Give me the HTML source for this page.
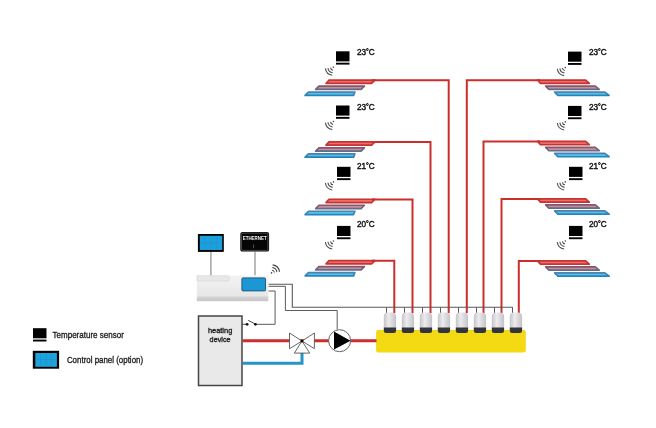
<!DOCTYPE html><html><head><meta charset="utf-8"><style>html,body{margin:0;padding:0;background:#fff;width:656px;height:428px;overflow:hidden;position:relative}text{font-family:"Liberation Sans",sans-serif}</style></head><body><div style="position:absolute;left:0;top:0;width:656px;height:428px;will-change:transform;opacity:0.999;filter:blur(0.3px)"><svg width="656" height="428" viewBox="0 0 656 428" style="position:absolute;left:0;top:0" font-family="Liberation Sans, sans-serif"><defs><linearGradient id="ms" x1="0" y1="0" x2="0" y2="1"><stop offset="0" stop-color="#8c5468"/><stop offset="1" stop-color="#606e8c"/></linearGradient><linearGradient id="bs" x1="0" y1="0" x2="0" y2="1"><stop offset="0" stop-color="#5480a8"/><stop offset="1" stop-color="#2286bc"/></linearGradient></defs><polygon points="329.00,80.15 374.88,80.15 371.59,83.45 326.03,83.45" fill="#f06c6a" stroke="#c43432" stroke-width="1.7" stroke-linejoin="round"/><polygon points="318.91,86.15 364.38,86.15 361.09,89.45 315.62,89.45" fill="#c490a0" stroke="url(#ms)" stroke-width="1.7" stroke-linejoin="round"/><polygon points="308.41,92.15 354.90,92.15 353.57,95.45 305.12,95.45" fill="#4ec4ee" stroke="url(#bs)" stroke-width="1.7" stroke-linejoin="round"/><polyline points="372,80.3 448.7,80.3 448.7,313" fill="none" stroke="#cc2e2c" stroke-width="2"/><rect x="336" y="51.3" width="13.5" height="10.1" fill="#000"/><rect x="336" y="62.699999999999996" width="13.5" height="1.9" fill="#000"/><text x="356.9" y="55.2" font-size="8.3" fill="#111" stroke="#111" stroke-width="0.4" textLength="17.8" lengthAdjust="spacingAndGlyphs">23<tspan font-size="7" dy="-0.9">°</tspan><tspan dy="0.9">C</tspan></text><path d="M333.00,70.17 A2.9,2.9 0 0 1 330.53,67.70" fill="none" stroke="#4c4c4c" stroke-width="1.1"/><path d="M332.63,72.75 A5.5,5.5 0 0 1 327.95,68.07" fill="none" stroke="#4c4c4c" stroke-width="1.1"/><path d="M332.27,75.32 A8.1,8.1 0 0 1 325.38,68.43" fill="none" stroke="#4c4c4c" stroke-width="1.1"/><circle cx="333.4" cy="67.3" r="0.8" fill="#4c4c4c"/><polygon points="329.00,141.85 374.88,141.85 371.59,145.15 326.03,145.15" fill="#f06c6a" stroke="#c43432" stroke-width="1.7" stroke-linejoin="round"/><polygon points="318.91,147.85 364.38,147.85 361.09,151.15 315.62,151.15" fill="#c490a0" stroke="url(#ms)" stroke-width="1.7" stroke-linejoin="round"/><polygon points="308.41,153.85 354.90,153.85 353.57,157.15 305.12,157.15" fill="#4ec4ee" stroke="url(#bs)" stroke-width="1.7" stroke-linejoin="round"/><polyline points="372,142 430.5,142 430.5,313" fill="none" stroke="#cc2e2c" stroke-width="2"/><rect x="336" y="105.5" width="13.5" height="10.1" fill="#000"/><rect x="336" y="116.9" width="13.5" height="1.9" fill="#000"/><text x="356.9" y="109.7" font-size="8.3" fill="#111" stroke="#111" stroke-width="0.4" textLength="17.8" lengthAdjust="spacingAndGlyphs">23<tspan font-size="7" dy="-0.9">°</tspan><tspan dy="0.9">C</tspan></text><path d="M333.00,124.37 A2.9,2.9 0 0 1 330.53,121.90" fill="none" stroke="#4c4c4c" stroke-width="1.1"/><path d="M332.63,126.95 A5.5,5.5 0 0 1 327.95,122.27" fill="none" stroke="#4c4c4c" stroke-width="1.1"/><path d="M332.27,129.52 A8.1,8.1 0 0 1 325.38,122.63" fill="none" stroke="#4c4c4c" stroke-width="1.1"/><circle cx="333.4" cy="121.5" r="0.8" fill="#4c4c4c"/><polygon points="329.00,199.25 374.88,199.25 371.59,202.55 326.03,202.55" fill="#f06c6a" stroke="#c43432" stroke-width="1.7" stroke-linejoin="round"/><polygon points="318.91,205.25 364.38,205.25 361.09,208.55 315.62,208.55" fill="#c490a0" stroke="url(#ms)" stroke-width="1.7" stroke-linejoin="round"/><polygon points="308.41,211.25 354.90,211.25 353.57,214.55 305.12,214.55" fill="#4ec4ee" stroke="url(#bs)" stroke-width="1.7" stroke-linejoin="round"/><polyline points="372,199.4 412.5,199.4 412.5,313" fill="none" stroke="#cc2e2c" stroke-width="2"/><rect x="337" y="166.8" width="13.5" height="10.1" fill="#000"/><rect x="337" y="178.20000000000002" width="13.5" height="1.9" fill="#000"/><text x="356.9" y="169.2" font-size="8.3" fill="#111" stroke="#111" stroke-width="0.4" textLength="17.8" lengthAdjust="spacingAndGlyphs">21<tspan font-size="7" dy="-0.9">°</tspan><tspan dy="0.9">C</tspan></text><path d="M333.00,184.77 A2.9,2.9 0 0 1 330.53,182.30" fill="none" stroke="#4c4c4c" stroke-width="1.1"/><path d="M332.63,187.35 A5.5,5.5 0 0 1 327.95,182.67" fill="none" stroke="#4c4c4c" stroke-width="1.1"/><path d="M332.27,189.92 A8.1,8.1 0 0 1 325.38,183.03" fill="none" stroke="#4c4c4c" stroke-width="1.1"/><circle cx="333.4" cy="181.9" r="0.8" fill="#4c4c4c"/><polygon points="329.00,260.55 374.88,260.55 371.59,263.85 326.03,263.85" fill="#f06c6a" stroke="#c43432" stroke-width="1.7" stroke-linejoin="round"/><polygon points="318.91,266.55 364.38,266.55 361.09,269.85 315.62,269.85" fill="#c490a0" stroke="url(#ms)" stroke-width="1.7" stroke-linejoin="round"/><polygon points="308.41,272.55 354.90,272.55 353.57,275.85 305.12,275.85" fill="#4ec4ee" stroke="url(#bs)" stroke-width="1.7" stroke-linejoin="round"/><polyline points="372,260.7 394.3,260.7 394.3,313" fill="none" stroke="#cc2e2c" stroke-width="2"/><rect x="337" y="225.9" width="13.5" height="10.1" fill="#000"/><rect x="337" y="237.3" width="13.5" height="1.9" fill="#000"/><text x="356.9" y="227.2" font-size="8.3" fill="#111" stroke="#111" stroke-width="0.4" textLength="17.8" lengthAdjust="spacingAndGlyphs">20<tspan font-size="7" dy="-0.9">°</tspan><tspan dy="0.9">C</tspan></text><path d="M333.00,243.87 A2.9,2.9 0 0 1 330.53,241.40" fill="none" stroke="#4c4c4c" stroke-width="1.1"/><path d="M332.63,246.45 A5.5,5.5 0 0 1 327.95,241.77" fill="none" stroke="#4c4c4c" stroke-width="1.1"/><path d="M332.27,249.02 A8.1,8.1 0 0 1 325.38,242.13" fill="none" stroke="#4c4c4c" stroke-width="1.1"/><circle cx="333.4" cy="241.0" r="0.8" fill="#4c4c4c"/><polygon points="537.53,80.05 585.67,80.05 589.30,83.35 540.50,83.35" fill="#f06c6a" stroke="#c43432" stroke-width="1.7" stroke-linejoin="round"/><polygon points="545.62,86.05 595.25,86.05 599.22,89.35 548.91,89.35" fill="#c490a0" stroke="url(#ms)" stroke-width="1.7" stroke-linejoin="round"/><polygon points="554.62,92.05 604.84,92.05 609.13,95.35 557.91,95.35" fill="#4ec4ee" stroke="url(#bs)" stroke-width="1.7" stroke-linejoin="round"/><polyline points="540,80.2 466.8,80.2 466.8,313" fill="none" stroke="#cc2e2c" stroke-width="2"/><rect x="568" y="51.6" width="13.5" height="10.1" fill="#000"/><rect x="568" y="63.0" width="13.5" height="1.9" fill="#000"/><text x="588.9" y="55.1" font-size="8.3" fill="#111" stroke="#111" stroke-width="0.4" textLength="17.8" lengthAdjust="spacingAndGlyphs">23<tspan font-size="7" dy="-0.9">°</tspan><tspan dy="0.9">C</tspan></text><path d="M564.90,70.47 A2.9,2.9 0 0 1 562.43,68.00" fill="none" stroke="#4c4c4c" stroke-width="1.1"/><path d="M564.53,73.05 A5.5,5.5 0 0 1 559.85,68.37" fill="none" stroke="#4c4c4c" stroke-width="1.1"/><path d="M564.17,75.62 A8.1,8.1 0 0 1 557.28,68.73" fill="none" stroke="#4c4c4c" stroke-width="1.1"/><circle cx="565.3" cy="67.6" r="0.8" fill="#4c4c4c"/><polygon points="537.53,141.45 585.67,141.45 589.30,144.75 540.50,144.75" fill="#f06c6a" stroke="#c43432" stroke-width="1.7" stroke-linejoin="round"/><polygon points="545.62,147.45 595.25,147.45 599.22,150.75 548.91,150.75" fill="#c490a0" stroke="url(#ms)" stroke-width="1.7" stroke-linejoin="round"/><polygon points="554.62,153.45 604.84,153.45 609.13,156.75 557.91,156.75" fill="#4ec4ee" stroke="url(#bs)" stroke-width="1.7" stroke-linejoin="round"/><polyline points="540,141.6 483.5,141.6 483.5,313" fill="none" stroke="#cc2e2c" stroke-width="2"/><rect x="568" y="105.9" width="13.5" height="10.1" fill="#000"/><rect x="568" y="117.30000000000001" width="13.5" height="1.9" fill="#000"/><text x="588.9" y="109.6" font-size="8.3" fill="#111" stroke="#111" stroke-width="0.4" textLength="17.8" lengthAdjust="spacingAndGlyphs">23<tspan font-size="7" dy="-0.9">°</tspan><tspan dy="0.9">C</tspan></text><path d="M564.90,124.77 A2.9,2.9 0 0 1 562.43,122.30" fill="none" stroke="#4c4c4c" stroke-width="1.1"/><path d="M564.53,127.35 A5.5,5.5 0 0 1 559.85,122.67" fill="none" stroke="#4c4c4c" stroke-width="1.1"/><path d="M564.17,129.92 A8.1,8.1 0 0 1 557.28,123.03" fill="none" stroke="#4c4c4c" stroke-width="1.1"/><circle cx="565.3" cy="121.9" r="0.8" fill="#4c4c4c"/><polygon points="537.53,198.85 585.67,198.85 589.30,202.15 540.50,202.15" fill="#f06c6a" stroke="#c43432" stroke-width="1.7" stroke-linejoin="round"/><polygon points="545.62,204.85 595.25,204.85 599.22,208.15 548.91,208.15" fill="#c490a0" stroke="url(#ms)" stroke-width="1.7" stroke-linejoin="round"/><polygon points="554.62,210.85 604.84,210.85 609.13,214.15 557.91,214.15" fill="#4ec4ee" stroke="url(#bs)" stroke-width="1.7" stroke-linejoin="round"/><polyline points="540,199 501.5,199 501.5,313" fill="none" stroke="#cc2e2c" stroke-width="2"/><rect x="569" y="166.8" width="13.5" height="10.1" fill="#000"/><rect x="569" y="178.20000000000002" width="13.5" height="1.9" fill="#000"/><text x="588.9" y="169.1" font-size="8.3" fill="#111" stroke="#111" stroke-width="0.4" textLength="17.8" lengthAdjust="spacingAndGlyphs">21<tspan font-size="7" dy="-0.9">°</tspan><tspan dy="0.9">C</tspan></text><path d="M564.90,184.77 A2.9,2.9 0 0 1 562.43,182.30" fill="none" stroke="#4c4c4c" stroke-width="1.1"/><path d="M564.53,187.35 A5.5,5.5 0 0 1 559.85,182.67" fill="none" stroke="#4c4c4c" stroke-width="1.1"/><path d="M564.17,189.92 A8.1,8.1 0 0 1 557.28,183.03" fill="none" stroke="#4c4c4c" stroke-width="1.1"/><circle cx="565.3" cy="181.9" r="0.8" fill="#4c4c4c"/><polygon points="537.53,260.85 585.67,260.85 589.30,264.15 540.50,264.15" fill="#f06c6a" stroke="#c43432" stroke-width="1.7" stroke-linejoin="round"/><polygon points="545.62,266.85 595.25,266.85 599.22,270.15 548.91,270.15" fill="#c490a0" stroke="url(#ms)" stroke-width="1.7" stroke-linejoin="round"/><polygon points="554.62,272.85 604.84,272.85 609.13,276.15 557.91,276.15" fill="#4ec4ee" stroke="url(#bs)" stroke-width="1.7" stroke-linejoin="round"/><polyline points="540,261 518.8,261 518.8,313" fill="none" stroke="#cc2e2c" stroke-width="2"/><rect x="569" y="225.9" width="13.5" height="10.1" fill="#000"/><rect x="569" y="237.3" width="13.5" height="1.9" fill="#000"/><text x="588.9" y="227.1" font-size="8.3" fill="#111" stroke="#111" stroke-width="0.4" textLength="17.8" lengthAdjust="spacingAndGlyphs">20<tspan font-size="7" dy="-0.9">°</tspan><tspan dy="0.9">C</tspan></text><path d="M564.90,243.87 A2.9,2.9 0 0 1 562.43,241.40" fill="none" stroke="#4c4c4c" stroke-width="1.1"/><path d="M564.53,246.45 A5.5,5.5 0 0 1 559.85,241.77" fill="none" stroke="#4c4c4c" stroke-width="1.1"/><path d="M564.17,249.02 A8.1,8.1 0 0 1 557.28,242.13" fill="none" stroke="#4c4c4c" stroke-width="1.1"/><circle cx="565.3" cy="241.0" r="0.8" fill="#4c4c4c"/><polyline points="268.5,284.3 292.3,284.3 292.3,307.3 512.7,307.3" fill="none" stroke="#5a5a5a" stroke-width="1.1"/><polyline points="268.5,286.3 285.4,286.3 285.4,310.5 337.2,310.5 337.2,329.5" fill="none" stroke="#5a5a5a" stroke-width="1"/><polyline points="268.5,291 275.1,291 275.1,324.3 256,324.3" fill="none" stroke="#5a5a5a" stroke-width="1"/><line x1="386.5" y1="307.2" x2="386.5" y2="314" stroke="#5a5a5a" stroke-width="1"/><line x1="404.5" y1="307.2" x2="404.5" y2="314" stroke="#5a5a5a" stroke-width="1"/><line x1="422.5" y1="307.2" x2="422.5" y2="314" stroke="#5a5a5a" stroke-width="1"/><line x1="440.5" y1="307.2" x2="440.5" y2="314" stroke="#5a5a5a" stroke-width="1"/><line x1="458.5" y1="307.2" x2="458.5" y2="314" stroke="#5a5a5a" stroke-width="1"/><line x1="476.5" y1="307.2" x2="476.5" y2="314" stroke="#5a5a5a" stroke-width="1"/><line x1="494.5" y1="307.2" x2="494.5" y2="314" stroke="#5a5a5a" stroke-width="1"/><line x1="512.5" y1="307.2" x2="512.5" y2="314" stroke="#5a5a5a" stroke-width="1"/><defs><linearGradient id="cap" x1="0" y1="0" x2="1" y2="0"><stop offset="0" stop-color="#c4c4ca"/><stop offset="0.4" stop-color="#ececef"/><stop offset="1" stop-color="#c2c2c8"/></linearGradient><linearGradient id="ctl" x1="0" y1="0" x2="0" y2="1"><stop offset="0" stop-color="#f3f3f3"/><stop offset="0.78" stop-color="#e7e7e7"/><stop offset="0.86" stop-color="#d0d0d0"/><stop offset="1" stop-color="#c6c6c6"/></linearGradient></defs><rect x="376.1" y="330.1" width="149.7" height="22.4" rx="2.2" fill="#f3da12"/><path d="M383.8,329 V316.5 Q383.8,312.6 387.8,312.6 H392.1 Q396.1,312.6 396.1,316.5 V329 Z" fill="url(#cap)"/><path d="M383.8,327.4 H396.1 V330.8 Q396.1,333 393.8,333 H386.1 Q383.8,333 383.8,330.8 Z" fill="#34343c"/><path d="M401.8,329 V316.5 Q401.8,312.6 405.8,312.6 H410.1 Q414.1,312.6 414.1,316.5 V329 Z" fill="url(#cap)"/><path d="M401.8,327.4 H414.1 V330.8 Q414.1,333 411.8,333 H404.1 Q401.8,333 401.8,330.8 Z" fill="#34343c"/><path d="M419.8,329 V316.5 Q419.8,312.6 423.8,312.6 H428.1 Q432.1,312.6 432.1,316.5 V329 Z" fill="url(#cap)"/><path d="M419.8,327.4 H432.1 V330.8 Q432.1,333 429.8,333 H422.1 Q419.8,333 419.8,330.8 Z" fill="#34343c"/><path d="M437.8,329 V316.5 Q437.8,312.6 441.8,312.6 H446.1 Q450.1,312.6 450.1,316.5 V329 Z" fill="url(#cap)"/><path d="M437.8,327.4 H450.1 V330.8 Q450.1,333 447.8,333 H440.1 Q437.8,333 437.8,330.8 Z" fill="#34343c"/><path d="M455.8,329 V316.5 Q455.8,312.6 459.8,312.6 H464.1 Q468.1,312.6 468.1,316.5 V329 Z" fill="url(#cap)"/><path d="M455.8,327.4 H468.1 V330.8 Q468.1,333 465.8,333 H458.1 Q455.8,333 455.8,330.8 Z" fill="#34343c"/><path d="M473.8,329 V316.5 Q473.8,312.6 477.8,312.6 H482.1 Q486.1,312.6 486.1,316.5 V329 Z" fill="url(#cap)"/><path d="M473.8,327.4 H486.1 V330.8 Q486.1,333 483.8,333 H476.1 Q473.8,333 473.8,330.8 Z" fill="#34343c"/><path d="M491.8,329 V316.5 Q491.8,312.6 495.8,312.6 H500.1 Q504.1,312.6 504.1,316.5 V329 Z" fill="url(#cap)"/><path d="M491.8,327.4 H504.1 V330.8 Q504.1,333 501.8,333 H494.1 Q491.8,333 491.8,330.8 Z" fill="#34343c"/><path d="M509.8,329 V316.5 Q509.8,312.6 513.8,312.6 H518.1 Q522.1,312.6 522.1,316.5 V329 Z" fill="url(#cap)"/><path d="M509.8,327.4 H522.1 V330.8 Q522.1,333 519.8,333 H512.1 Q509.8,333 509.8,330.8 Z" fill="#34343c"/><rect x="196.8" y="275.6" width="71.5" height="25.6" fill="url(#ctl)"/><path d="M197,275.8 H228 L230,277.5 L228.5,281 H197 Z" fill="#e8e8e8" stroke="#d2d2d2" stroke-width="0.6"/><rect x="241.9" y="277.9" width="23.6" height="13" rx="1" fill="#1c97d6" stroke="#1d4f74" stroke-width="0.9"/><line x1="210.9" y1="252" x2="210.9" y2="275.2" stroke="#969696" stroke-width="1.3"/><line x1="255" y1="251.7" x2="255" y2="275.2" stroke="#969696" stroke-width="1.3"/><rect x="197.9" y="234" width="25.9" height="17.9" fill="#000"/><rect x="199.8" y="235.8" width="22.4" height="14.2" fill="#1ca0dc"/><line x1="205.2" y1="235.8" x2="205.2" y2="250" stroke="#2090c8" stroke-width="0.6"/><line x1="211" y1="235.8" x2="211" y2="250" stroke="#2090c8" stroke-width="0.6"/><line x1="216.5" y1="235.8" x2="216.5" y2="250" stroke="#2090c8" stroke-width="0.6"/><line x1="199.8" y1="242.8" x2="222.2" y2="242.8" stroke="#2090c8" stroke-width="0.6"/><rect x="240.3" y="231.9" width="28.8" height="19.7" rx="2.2" fill="#050505"/><rect x="241.5" y="233.1" width="26.4" height="17.3" rx="1.5" fill="none" stroke="#8a8a8a" stroke-width="0.5"/><text x="254.7" y="239.8" font-size="4.7" font-weight="bold" fill="#f4f4f4" text-anchor="middle" textLength="24" lengthAdjust="spacingAndGlyphs">ETHERNET</text><line x1="253.6" y1="244.4" x2="253.6" y2="248.3" stroke="#888" stroke-width="0.6"/><path d="M271.90,270.03 A2.9,2.9 0 0 1 274.37,272.50" fill="none" stroke="#444" stroke-width="1.1"/><path d="M272.27,267.45 A5.5,5.5 0 0 1 276.95,272.13" fill="none" stroke="#444" stroke-width="1.1"/><path d="M272.63,264.88 A8.1,8.1 0 0 1 279.52,271.77" fill="none" stroke="#444" stroke-width="1.1"/><circle cx="271.5" cy="272.9" r="0.8" fill="#444"/><rect x="198.5" y="316" width="43.5" height="69.5" fill="#e9e9e9" stroke="#444" stroke-width="1.5"/><text x="220.1" y="332.5" font-size="7.7" fill="#222" stroke="#222" stroke-width="0.35" text-anchor="middle" textLength="24.4" lengthAdjust="spacingAndGlyphs">heating</text><text x="220.1" y="341.5" font-size="7.7" fill="#222" stroke="#222" stroke-width="0.35" text-anchor="middle" textLength="21" lengthAdjust="spacingAndGlyphs">device</text><line x1="242.5" y1="324.3" x2="247" y2="324.3" stroke="#333" stroke-width="0.9"/><line x1="255.6" y1="324.3" x2="248.2" y2="320.3" stroke="#333" stroke-width="0.9"/><circle cx="247.1" cy="324.3" r="1.4" fill="#111"/><circle cx="255.4" cy="324.3" r="1.4" fill="#111"/><line x1="242.5" y1="340.8" x2="376.5" y2="340.8" stroke="#cc2e2c" stroke-width="3"/><polyline points="242.5,363.2 302,363.2 302,352" fill="none" stroke="#2594c8" stroke-width="3"/><polygon points="289.5,333 302,341 289.5,348.7" fill="#fff" stroke="#555" stroke-width="0.9"/><polygon points="314.4,333 302,341 314.4,348.7" fill="#fff" stroke="#555" stroke-width="0.9"/><polygon points="294.3,353.1 302,341 309.7,353.1" fill="#fff" stroke="#555" stroke-width="0.9"/><circle cx="302" cy="341" r="1.5" fill="#000"/><circle cx="339.6" cy="340.7" r="11" fill="#fff" stroke="#555" stroke-width="0.9"/><polygon points="334,331.5 350.5,340.7 334,349.4" fill="#000"/><rect x="33" y="328.2" width="13.5" height="10.1" fill="#000"/><rect x="33" y="339.59999999999997" width="13.5" height="1.9" fill="#000"/><text x="52.6" y="337.6" font-size="8.8" fill="#1c1c1c" stroke="#1c1c1c" stroke-width="0.32" textLength="71.2" lengthAdjust="spacingAndGlyphs">Temperature sensor</text><rect x="32.8" y="350.8" width="26.3" height="17.9" fill="#000"/><rect x="35.3" y="353" width="21.6" height="13.8" fill="#1ca3de"/><line x1="40.4" y1="353" x2="40.4" y2="366.8" stroke="#2090c8" stroke-width="0.6"/><line x1="46.2" y1="353" x2="46.2" y2="366.8" stroke="#2090c8" stroke-width="0.6"/><line x1="51.4" y1="353" x2="51.4" y2="366.8" stroke="#2090c8" stroke-width="0.6"/><line x1="35.3" y1="359.6" x2="56.9" y2="359.6" stroke="#2090c8" stroke-width="0.6"/><text x="66.9" y="363.3" font-size="8.8" fill="#1c1c1c" stroke="#1c1c1c" stroke-width="0.32" textLength="76.2" lengthAdjust="spacingAndGlyphs">Control panel (option)</text></svg></div></body></html>
